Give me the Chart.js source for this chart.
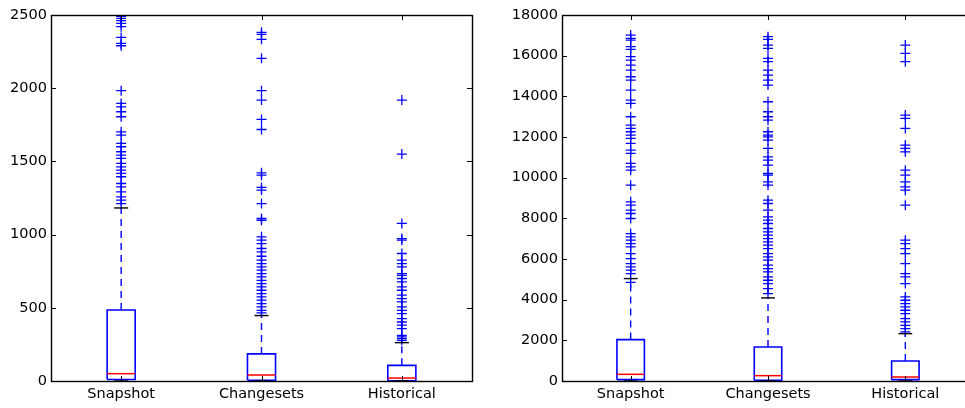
<!DOCTYPE html>
<html>
<head>
<meta charset="utf-8">
<script src="https://cdn.jsdelivr.net/npm/chart.js@4"></script>
<style>
  html, body { margin: 0; padding: 0; background: #fff; overflow: hidden; }
  body { width: 965px; height: 408px; position: relative; }
  canvas { position: absolute; top: 0; }
  #left { left: 0; }
  #right { left: 485px; }
</style>
</head>
<body>
<canvas id="left" width="480" height="408"></canvas>
<canvas id="right" width="500" height="408"></canvas>
<script>
const categories = ['Snapshot', 'Changesets', 'Historical'];

// left panel
const leftTicks = [0, 500, 1000, 1500, 2000, 2500];
const leftLow = [0, 0, 0];
const leftQ1 = [10, 5, 2];
const leftMedian = [50, 41, 20];
const leftQ3 = [485, 185, 107];
const leftHigh = [1182, 447, 262];
const leftSnapshotOut = [2490, 2477, 2461, 2443, 2420, 2347, 2306, 2290, 1983, 1896, 1873, 1839, 1805,
  1702, 1680, 1623, 1600, 1566, 1543, 1520, 1486, 1463, 1440, 1418, 1395, 1349, 1326, 1292, 1258, 1235, 1212];
const leftChangesetsOut = [2382, 2368, 2334, 2204, 1983, 1919, 1787, 1718, 1422, 1406, 1322, 1304, 1212,
  1110, 1098, 985, 962, 939, 905, 882, 852, 825, 802, 779, 757, 734, 711, 688, 665, 643, 620, 597, 574,
  552, 529, 506, 483, 465];
const leftHistoricalOut = [1919, 1550, 1076, 973, 962, 871, 825, 802, 779, 734, 722, 700, 677, 643, 620,
  586, 563, 540, 506, 483, 460, 426, 403, 381, 358, 312, 301, 290, 278];

// right panel
const rightTicks = [0, 2000, 4000, 6000, 8000, 10000, 12000, 14000, 16000, 18000];
const rightLow = [0, 0, 0];
const rightQ1 = [66, 40, 66];
const rightMedian = [328, 263, 197];
const rightQ3 = [2035, 1674, 984];
const rightHigh = [5037, 4086, 2330];
const rightSnapshotOut = [17015, 16851, 16769, 16441, 16310, 15949, 15785, 15539, 15292, 14964, 14800,
  14308, 13816, 13652, 12995, 12585, 12421, 12257, 12093, 11929, 11683, 11355, 11191, 10698, 10534, 10370,
  9632, 8811, 8647, 8401, 8237, 7991, 7252, 7088, 6924, 6760, 6596, 6268, 6022, 5776, 5612, 5448, 5284, 4850];
const rightChangesetsOut = [16933, 16802, 16523, 16359, 15867, 15703, 15292, 15046, 14800, 14554, 13734,
  13242, 12995, 12831, 12257, 12093, 12011, 11847, 11437, 11027, 10862, 10616, 10206, 10124, 9796, 9632,
  8893, 8729, 8401, 8073, 7909, 7745, 7499, 7334, 7170, 7006, 6842, 6678, 6514, 6268, 6104, 5940, 5694,
  5530, 5365, 5119, 4956, 4791, 4545, 4299];
const rightHistoricalOut = [16523, 16113, 15703, 13077, 12913, 12421, 11601, 11437, 11273, 10370, 10124,
  9796, 9550, 9386, 8647, 6924, 6760, 6514, 6268, 5776, 5284, 5119, 4791, 4135, 3971, 3807, 3643, 3479,
  3315, 3068, 2904, 2740, 2576, 2412];

const BLUE = '#0000ff';
const HALF_BOX = 0.1;
const HALF_CAP = 0.05;
const FONT = { family: 'DejaVu Sans', size: 14.5 };

function seg(x1, y1, x2, y2) {
  return [{ x: x1, y: y1 }, { x: x2, y: y2 }];
}

function buildDatasets(low, q1, med, q3, high, outliers) {
  const ds = [];
  for (let i = 0; i < categories.length; i++) {
    const x = i + 1;
    ds.push({ data: seg(x - HALF_CAP, high[i], x + HALF_CAP, high[i]), borderColor: '#000', borderWidth: 1.4 });
    ds.push({ data: seg(x - HALF_CAP, low[i], x + HALF_CAP, low[i]), borderColor: '#000', borderWidth: 1.4 });
    ds.push({
      data: outliers[i].map(v => ({ x: x, y: v })),
      pointStyle: 'cross', pointRadius: 5, pointBorderColor: BLUE, pointBorderWidth: 1.3,
      pointHoverRadius: 5, showLine: false
    });
    ds.push({ data: seg(x - HALF_BOX, med[i], x + HALF_BOX, med[i]), borderColor: '#ff0000', borderWidth: 1.5 });
    ds.push({
      data: [{ x: x - HALF_BOX, y: q1[i] }, { x: x + HALF_BOX, y: q1[i] }, { x: x + HALF_BOX, y: q3[i] },
        { x: x - HALF_BOX, y: q3[i] }, { x: x - HALF_BOX, y: q1[i] }],
      borderColor: BLUE, borderWidth: 1.6
    });
    ds.push({ data: seg(x, q3[i], x, high[i]), borderColor: BLUE, borderWidth: 1.4, borderDash: [7, 5] });
    ds.push({ data: seg(x, low[i], x, q1[i]), borderColor: BLUE, borderWidth: 1.4, borderDash: [7, 5] });
  }
  ds.forEach(d => {
    if (d.showLine === undefined) { d.showLine = true; d.pointRadius = 0; d.pointHoverRadius = 0; }
    d.fill = false;
    d.tension = 0;
  });
  return ds;
}

// frame and inward ticks on all four sides, like matplotlib classic
const frameTicks = {
  id: 'frameTicks',
  afterDraw(chart) {
    const ctx = chart.ctx;
    const a = chart.chartArea;
    const len = 5;
    ctx.save();
    ctx.strokeStyle = '#000';
    ctx.lineWidth = 1;
    ctx.beginPath();
    chart.scales.x.ticks.forEach(t => {
      const px = Math.round(chart.scales.x.getPixelForValue(t.value)) + 0.5;
      ctx.moveTo(px, a.bottom); ctx.lineTo(px, a.bottom - len);
      ctx.moveTo(px, a.top); ctx.lineTo(px, a.top + len);
    });
    chart.scales.y.ticks.forEach(t => {
      const py = Math.round(chart.scales.y.getPixelForValue(t.value)) + 0.5;
      ctx.moveTo(a.left, py); ctx.lineTo(a.left + len, py);
      ctx.moveTo(a.right, py); ctx.lineTo(a.right - len, py);
    });
    ctx.stroke();
    ctx.lineWidth = 1.4;
    ctx.strokeRect(Math.round(a.left) + 0.5, Math.round(a.top) + 0.5,
      Math.round(a.right - a.left), Math.round(a.bottom - a.top));
    ctx.restore();
  }
};

function makeChart(id, yTicks, yWidth, padRight, datasets) {
  return new Chart(document.getElementById(id), {
    type: 'scatter',
    data: { datasets: datasets },
    options: {
      responsive: false,
      animation: false,
      devicePixelRatio: 1,
      layout: { padding: { top: 15, right: padRight, bottom: 0, left: 0 } },
      plugins: { legend: { display: false }, tooltip: { enabled: false } },
      scales: {
        x: {
          type: 'linear', min: 0.5, max: 3.5,
          afterBuildTicks: s => { s.ticks = categories.map((c, i) => ({ value: i + 1 })); },
          afterFit: s => { s.height = 27; },
          grid: { display: false, drawTicks: false },
          border: { display: false },
          ticks: {
            autoSkip: false, maxRotation: 0, padding: 5, color: '#000', font: FONT,
            callback: v => categories[v - 1]
          }
        },
        y: {
          type: 'linear', min: yTicks[0], max: yTicks[yTicks.length - 1],
          afterBuildTicks: s => { s.ticks = yTicks.map(v => ({ value: v })); },
          afterFit: s => { s.width = yWidth; },
          grid: { display: false, drawTicks: false },
          border: { display: false },
          ticks: { padding: 4, color: '#000', font: FONT, callback: v => String(v) }
        }
      }
    },
    plugins: [frameTicks]
  });
}

window.addEventListener('load', () => {
  makeChart('left', leftTicks, 51, 8,
    buildDatasets(leftLow, leftQ1, leftMedian, leftQ3, leftHigh,
      [leftSnapshotOut, leftChangesetsOut, leftHistoricalOut]));
  makeChart('right', rightTicks, 77, 11,
    buildDatasets(rightLow, rightQ1, rightMedian, rightQ3, rightHigh,
      [rightSnapshotOut, rightChangesetsOut, rightHistoricalOut]));
});
</script>
</body>
</html>
